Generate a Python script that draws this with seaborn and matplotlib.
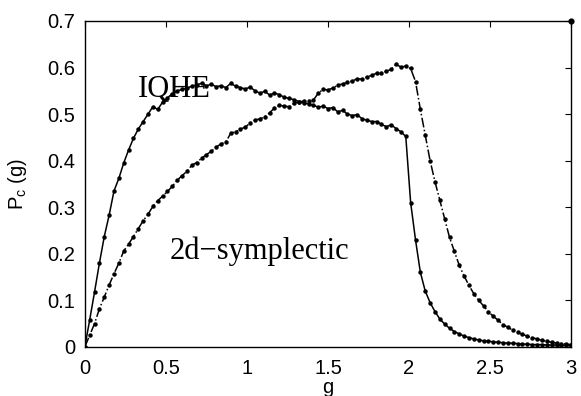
import numpy as np
import matplotlib
matplotlib.use("Agg")
import matplotlib.pyplot as plt
import seaborn as sns
import pandas as pd

sns.set_theme(style="white", rc={"axes.edgecolor": "black", "axes.linewidth": 1.0})
plt.rcParams['font.family'] = ['Liberation Sans', 'DejaVu Sans']

# sampling points in g
g = [0.00, 0.03, 0.06, 0.09, 0.12, 0.15, 0.18, 0.21, 0.24, 0.27,
     0.30, 0.33, 0.36, 0.39, 0.42, 0.45, 0.48, 0.51, 0.54, 0.57,
     0.60, 0.63, 0.66, 0.69, 0.72, 0.75, 0.78, 0.81, 0.84, 0.87,
     0.90, 0.93, 0.96, 0.99, 1.02, 1.05, 1.08, 1.11, 1.14, 1.17,
     1.20, 1.23, 1.26, 1.29, 1.32, 1.35, 1.38, 1.41, 1.44, 1.47,
     1.50, 1.53, 1.56, 1.59, 1.62, 1.65, 1.68, 1.71, 1.74, 1.77,
     1.80, 1.83, 1.86, 1.89, 1.92, 1.95, 1.98, 2.01, 2.04, 2.07,
     2.10, 2.13, 2.16, 2.19, 2.22, 2.25, 2.28, 2.31, 2.34, 2.37,
     2.40, 2.43, 2.46, 2.49, 2.52, 2.55, 2.58, 2.61, 2.64, 2.67,
     2.70, 2.73, 2.76, 2.79, 2.82, 2.85, 2.88, 2.91, 2.94, 2.97,
     3.00]

# IQHE curve (solid)
p_iqhe = [0.000, 0.058, 0.118, 0.180, 0.237, 0.283, 0.335, 0.362, 0.395, 0.423,
          0.448, 0.468, 0.484, 0.500, 0.516, 0.510, 0.526, 0.535, 0.544, 0.550,
          0.553, 0.556, 0.560, 0.563, 0.566, 0.561, 0.564, 0.559, 0.561, 0.557,
          0.566, 0.560, 0.557, 0.554, 0.558, 0.550, 0.545, 0.549, 0.541, 0.545,
          0.542, 0.536, 0.534, 0.531, 0.527, 0.524, 0.522, 0.519, 0.515, 0.517,
          0.512, 0.514, 0.505, 0.508, 0.500, 0.497, 0.499, 0.490, 0.487, 0.484,
          0.484, 0.478, 0.473, 0.477, 0.469, 0.462, 0.452, 0.310, 0.230, 0.160,
          0.120, 0.095, 0.076, 0.060, 0.049, 0.040, 0.033, 0.028, 0.023, 0.020,
          0.017, 0.015, 0.013, 0.012, 0.011, 0.010, 0.009, 0.008, 0.008, 0.007,
          0.006, 0.006, 0.005, 0.005, 0.005, 0.004, 0.004, 0.004, 0.003, 0.003,
          0.003]

# 2d-symplectic curve (dash-dot)
p_sympl = [0.000, 0.025, 0.050, 0.082, 0.107, 0.133, 0.157, 0.180, 0.206, 0.221,
           0.237, 0.254, 0.271, 0.285, 0.302, 0.314, 0.324, 0.334, 0.345, 0.358,
           0.368, 0.377, 0.390, 0.396, 0.405, 0.413, 0.420, 0.429, 0.436, 0.440,
           0.459, 0.462, 0.468, 0.472, 0.481, 0.487, 0.490, 0.494, 0.503, 0.513,
           0.519, 0.517, 0.516, 0.523, 0.526, 0.528, 0.529, 0.530, 0.545, 0.553,
           0.552, 0.556, 0.562, 0.565, 0.568, 0.571, 0.576, 0.575, 0.580, 0.583,
           0.588, 0.588, 0.592, 0.596, 0.607, 0.601, 0.603, 0.598, 0.570, 0.510,
           0.455, 0.400, 0.355, 0.315, 0.275, 0.235, 0.205, 0.175, 0.152, 0.132,
           0.114, 0.100, 0.088, 0.075, 0.066, 0.057, 0.048, 0.042, 0.036, 0.031,
           0.027, 0.023, 0.020, 0.017, 0.014, 0.012, 0.010, 0.008, 0.007, 0.006,
           0.005]

corner_g = [3.0]
corner_p = [0.7]

df = pd.DataFrame({"g": g, "iqhe": p_iqhe, "sympl": p_sympl})

fig, ax = plt.subplots(1, 1, figsize=(5.81, 3.96), dpi=100)
fig.subplots_adjust(left=0.146, right=0.983, top=0.947, bottom=0.124)

sns.lineplot(data=df, x="g", y="iqhe", ax=ax, color="black", linewidth=1.1,
             marker="o", markersize=3.2, markeredgewidth=0, linestyle="-")
sns.lineplot(data=df, x="g", y="sympl", ax=ax, color="black", linewidth=1.1,
             marker="o", markersize=3.2, markeredgewidth=0, linestyle="-.")
ax.scatter(corner_g, corner_p, color="black", s=12, clip_on=False, zorder=5)

ax.set_xlim(0, 3)
ax.set_ylim(0, 0.7)
ax.set_xticks([0, 0.5, 1, 1.5, 2, 2.5, 3])
ax.set_xticklabels(["0", "0.5", "1", "1.5", "2", "2.5", "3"])
ax.set_yticks([0, 0.1, 0.2, 0.3, 0.4, 0.5, 0.6, 0.7])
ax.set_yticklabels(["0", "0.1", "0.2", "0.3", "0.4", "0.5", "0.6", "0.7"])
ax.tick_params(direction="in", length=4, width=0.8, top=True, right=True,
               labelsize=14.5, colors="black", pad=7)
ax.tick_params(axis="x", pad=9)

ax.set_xlabel("g", fontsize=14.5, color="black")
ax.set_ylabel(r"P$_\mathregular{c}$ (g)", fontsize=14.5, color="black")
ax.xaxis.set_label_coords(0.5, -0.095)
ax.yaxis.set_label_coords(-0.115, 0.5)

ax.text(0.328, 0.537, "IQHE", family=["Liberation Serif", "DejaVu Serif"],
        fontsize=22, color="black")
ax.text(0.524, 0.188, "2d\u2212symplectic", family=["Liberation Serif", "DejaVu Serif"],
        fontsize=22, color="black")

fig.savefig("out.png", dpi=100)
plt.close()
